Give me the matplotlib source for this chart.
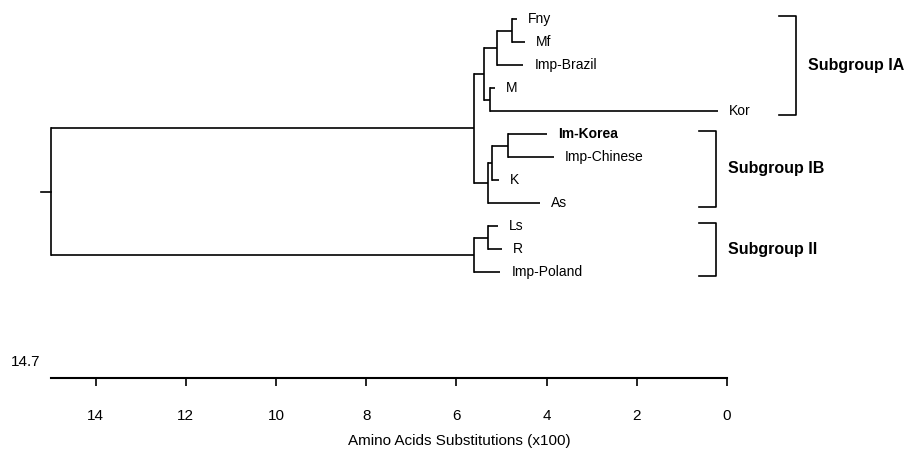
import matplotlib
matplotlib.use("Agg")
import matplotlib.pyplot as plt

plt.rcParams["font.family"] = ["Liberation Sans", "DejaVu Sans"]

# leaves, top to bottom, with their heights (x100 substitutions)
leaves = ["Fny", "Mf", "Imp-Brazil", "M", "Kor",
          "Im-Korea", "Imp-Chinese", "K", "As",
          "Ls", "R", "Imp-Poland"]
leaf_heights = [4.66, 4.48, 4.52, 5.14, 0.20,
                3.99, 3.84, 5.06, 4.15,
                5.08, 4.99, 5.03]
bold_leaves = ["Im-Korea"]

# internal nodes: name, height, children
node_names = ["root", "I", "IA", "FMB", "FM", "MK", "IB", "KC", "KC2", "II", "LR"]
node_heights = [15.0, 5.61, 5.39, 5.10, 4.77, 5.25, 5.30, 5.21, 4.86, 5.61, 5.30]
node_children = [
    ["I", "II"],
    ["IA", "IB"],
    ["FMB", "MK"],
    ["FM", "Imp-Brazil"],
    ["Fny", "Mf"],
    ["M", "Kor"],
    ["KC", "As"],
    ["KC2", "K"],
    ["Im-Korea", "Imp-Chinese"],
    ["LR", "Imp-Poland"],
    ["Ls", "R"],
]

groups = ["Subgroup IA", "Subgroup IB", "Subgroup II"]
group_spans = [("Fny", "Kor"), ("Im-Korea", "As"), ("Ls", "Imp-Poland")]

axis_ticks = [14, 12, 10, 8, 6, 4, 2, 0]
axis_label = "Amino Acids Substitutions (x100)"
root_label = "14.7"

W, H = 918, 453
fig = plt.figure(figsize=(W / 100, H / 100), dpi=100)
ax = fig.add_axes([0, 0, 1, 1])
ax.axis("off")
# x in substitution units (reversed), y in pixel rows
px_per_unit = 45.1
x_zero = 727
ax.set_xlim(x_zero / px_per_unit, (x_zero - W) / px_per_unit)
ax.set_ylim(H, 0)

y_top, y_step = 19, 23.0
pos = {}
height = {}
for i, (name, h) in enumerate(zip(leaves, leaf_heights)):
    pos[name] = y_top + i * y_step
    height[name] = h
nodes = dict(zip(node_names, zip(node_heights, node_children)))


def layout(name):
    if name in pos:
        return pos[name]
    h, kids = nodes[name]
    ys = [layout(k) for k in kids]
    pos[name] = sum(ys) / len(ys)
    height[name] = h
    return pos[name]


layout("root")
lw = 1.2
for name, (h, kids) in nodes.items():
    ys = [pos[k] for k in kids]
    ax.plot([h, h], [min(ys), max(ys)], color="black", lw=lw, solid_capstyle="projecting")
    for k in kids:
        ax.plot([h, height[k]], [pos[k], pos[k]], color="black", lw=lw, solid_capstyle="butt")
# small stub left of root
ax.plot([height["root"] + 0.2, height["root"]], [pos["root"]] * 2, color="black", lw=lw)

for name in leaves:
    ax.annotate(name, (height[name], pos[name]), xytext=(8, 0), textcoords="offset points",
                va="center", ha="left", fontsize=10,
                fontweight="bold" if name in bold_leaves else "normal")

# subgroup brackets
bracket_x = [-1.53, 0.24, 0.24]
bracket_w = 0.37
label_x = [-1.79, -0.03, -0.03]
for g, (a, b), bx, lx in zip(groups, group_spans, bracket_x, label_x):
    y0, y1 = pos[a] - 3, pos[b] + 4
    ax.plot([bx + bracket_w, bx, bx, bx + bracket_w], [y0, y0, y1, y1],
            color="black", lw=lw)
    ax.text(lx, (y0 + y1) / 2, g, va="center", ha="left", fontsize=11.5, fontweight="bold")

# scale bar
ax2 = fig.add_axes([0, (H - 378) / H, 1, 0.001])
ax2.set_xlim(ax.get_xlim())
ax2.set_yticks([])
for s in ["top", "left", "right"]:
    ax2.spines[s].set_visible(False)
ax2.spines["bottom"].set_bounds(height["root"], 0)
ax2.spines["bottom"].set_linewidth(1.5)
ax2.patch.set_visible(False)
ax2.set_xticks(axis_ticks)
ax2.set_xticklabels([str(t) for t in axis_ticks])
ax2.tick_params(axis="x", direction="out", length=6, width=1.2, pad=16, labelsize=11)
ax2.set_xlabel(axis_label, fontsize=11, labelpad=8)
ax.text(height["root"] + 0.87, 362, root_label, va="center", ha="left", fontsize=11)

fig.savefig("out.png", dpi=100)
